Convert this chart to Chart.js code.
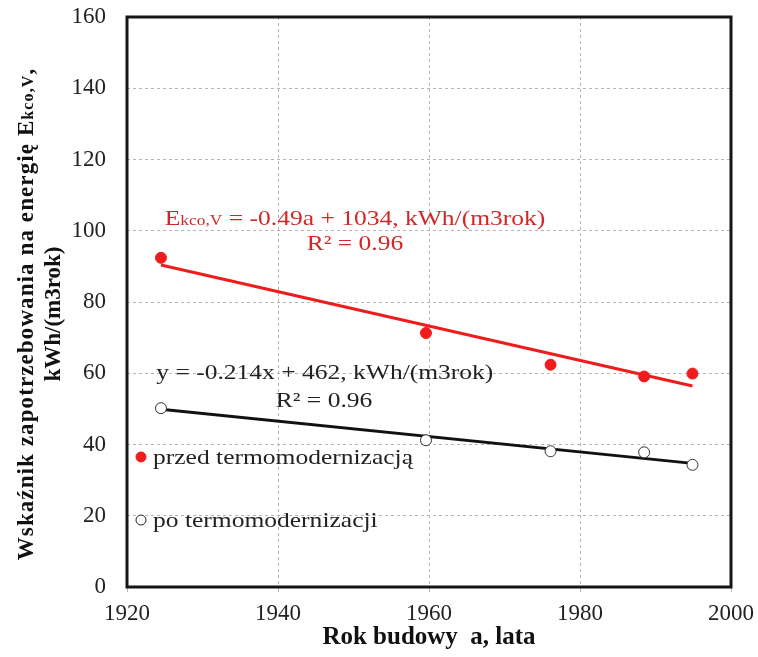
<!DOCTYPE html>
<html lang="pl">
<head>
  <meta charset="UTF-8" />
  <title>Wskaźnik zapotrzebowania na energię</title>
  <script src="https://cdn.jsdelivr.net/npm/chart.js"></script>
  <style>
    html, body { margin: 0; padding: 0; background: #fff; }
    #wrap { width: 758px; height: 657px; }
  </style>
</head>
<body>
<div id="wrap"><canvas id="chart"></canvas></div>

<script>
  // rok budowy budynkow
  const years = [1924.5, 1959.6, 1976.1, 1988.5, 1994.9];
  // przed termomodernizacja
  const before = [92.4, 71.3, 62.4, 59.1, 59.9];
  // po termomodernizacji
  const after = [50.2, 41.2, 38.1, 37.8, 34.3];
  // linie trendu (poczatek i koniec)
  const trendYears = [1924.5, 1994.9];
  const trendBefore = [90.4, 56.4];
  const trendAfter = [49.9, 34.7];
  const xTicks = [1920, 1940, 1960, 1980, 2000];

  const RED = "#ee1c1c";
  const RED_TXT = "#d42626";
  const SERIF = "'Liberation Serif', 'Times New Roman', serif";

  const pts = (xs, ys) => xs.map((x, i) => ({ x: x, y: ys[i] }));

  // draws text pieces [text, size] in a row, centred on cx, stretched by sx
  function drawPieces(ctx, pieces, cx, cy, weight, color, sx, spacing) {
    sx = sx || 1;
    ctx.save();
    ctx.letterSpacing = (spacing || 0) + "px";
    let total = 0;
    pieces.forEach(p => {
      ctx.font = weight + " " + p[1] + "px " + SERIF;
      total += ctx.measureText(p[0]).width;
    });
    ctx.translate(cx, cy);
    ctx.scale(sx, 1);
    let x = -total / 2;
    ctx.fillStyle = color;
    ctx.textAlign = "left";
    ctx.textBaseline = "alphabetic";
    pieces.forEach(p => {
      ctx.font = weight + " " + p[1] + "px " + SERIF;
      ctx.fillText(p[0], x, 0);
      x += ctx.measureText(p[0]).width;
    });
    ctx.restore();
  }

  const extras = {
    id: "extras",
    afterDatasetsDraw(chart) {
      const ctx = chart.ctx;
      const a = chart.chartArea;
      const xs = chart.scales.x, ys = chart.scales.y;
      ctx.save();

      // ramka wykresu
      ctx.strokeStyle = "#151515";
      ctx.lineWidth = 3;
      ctx.strokeRect(a.left, a.top, a.right - a.left, a.bottom - a.top);

      // rownania trendu
      const S = 1.16;
      drawPieces(ctx, [["E", 22], ["kco,V", 15], [" = -0.49a + 1034, kWh/(m3rok)", 22]],
        xs.getPixelForValue(1950.2), ys.getPixelForValue(101.5), "normal", RED_TXT, S);
      drawPieces(ctx, [["R² = 0.96", 22]],
        xs.getPixelForValue(1950.2), ys.getPixelForValue(94.6), "normal", RED_TXT, S);
      drawPieces(ctx, [["y = -0.214x + 462, kWh/(m3rok)", 22]],
        xs.getPixelForValue(1946.2), ys.getPixelForValue(58.5), "normal", "#222", S);
      drawPieces(ctx, [["R² = 0.96", 22]],
        xs.getPixelForValue(1946.1), ys.getPixelForValue(50.4), "normal", "#222", S);

      // legenda
      const lx = a.left + 14;
      const items = [
        { y: 36.5, fill: RED, stroke: RED, text: "przed termomodernizacją" },
        { y: 18.8, fill: "#fff", stroke: "#222", text: "po termomodernizacji" }
      ];
      items.forEach(it => {
        const py = ys.getPixelForValue(it.y);
        ctx.beginPath();
        ctx.arc(lx, py, 5, 0, Math.PI * 2);
        ctx.fillStyle = it.fill;
        ctx.fill();
        ctx.lineWidth = 1;
        ctx.strokeStyle = it.stroke;
        ctx.stroke();
        ctx.save();
        ctx.translate(lx + 12, py + 1);
        ctx.scale(S, 1);
        ctx.font = "22px " + SERIF;
        ctx.fillStyle = "#222";
        ctx.textAlign = "left";
        ctx.textBaseline = "middle";
        ctx.fillText(it.text, 0, 0);
        ctx.restore();
      });

      // tytul osi x
      drawPieces(ctx, [["Rok budowy  a, lata", 25]], (a.left + a.right) / 2, 644, "bold", "#111");

      // tytul osi y (obrocony)
      ctx.translate(0, 314);
      ctx.rotate(-Math.PI / 2);
      drawPieces(ctx, [["Wskaźnik zapotrzebowania na energię E", 23], ["kco,V", 16], [",", 23]],
        0, 33, "bold", "#111", 1, 1.1);
      drawPieces(ctx, [["kWh/(m3rok)", 23]], 0, 60, "bold", "#111");
      ctx.restore();
    }
  };

  new Chart(document.getElementById("chart"), {
    type: "scatter",
    data: {
      datasets: [
        {
          label: "trend przed",
          data: pts(trendYears, trendBefore),
          showLine: true,
          borderColor: RED,
          borderWidth: 3,
          pointRadius: 0,
          order: 3
        },
        {
          label: "trend po",
          data: pts(trendYears, trendAfter),
          showLine: true,
          borderColor: "#111",
          borderWidth: 3,
          pointRadius: 0,
          order: 4
        },
        {
          label: "przed termomodernizacją",
          data: pts(years, before),
          pointRadius: 5.5,
          backgroundColor: RED,
          borderColor: RED,
          borderWidth: 1,
          order: 1
        },
        {
          label: "po termomodernizacji",
          data: pts(years, after),
          pointRadius: 5.5,
          backgroundColor: "#fff",
          borderColor: "#333",
          borderWidth: 1,
          order: 2
        }
      ]
    },
    options: {
      responsive: true,
      maintainAspectRatio: false,
      animation: false,
      layout: { padding: { left: 0, right: 27, top: 17, bottom: 0 } },
      plugins: {
        legend: { display: false },
        tooltip: { enabled: false }
      },
      scales: {
        x: {
          type: "linear",
          min: 1920,
          max: 2000,
          afterBuildTicks: axis => { axis.ticks = xTicks.map(v => ({ value: v })); },
          afterFit: axis => {
            axis.height = 70;
            axis.paddingLeft = 0;
            axis.paddingRight = 0;
          },
          grid: { color: "#b5b5b5", lineWidth: 1, drawTicks: true, tickLength: 5 },
          border: { display: false, dash: [3, 3] },
          ticks: {
            color: "#222",
            padding: 8,
            maxRotation: 0,
            callback: v => String(v),
            font: { family: SERIF, size: 23 }
          }
        },
        y: {
          min: 0,
          max: 160,
          afterFit: axis => {
            axis.width = 127;
            axis.paddingTop = 0;
            axis.paddingBottom = 0;
          },
          grid: { color: "#b5b5b5", lineWidth: 1, drawTicks: false },
          border: { display: false, dash: [3, 3] },
          ticks: {
            stepSize: 20,
            color: "#222",
            padding: 21,
            callback: v => String(v),
            font: { family: SERIF, size: 23 }
          }
        }
      }
    },
    plugins: [extras]
  });
</script>
</body>
</html>
